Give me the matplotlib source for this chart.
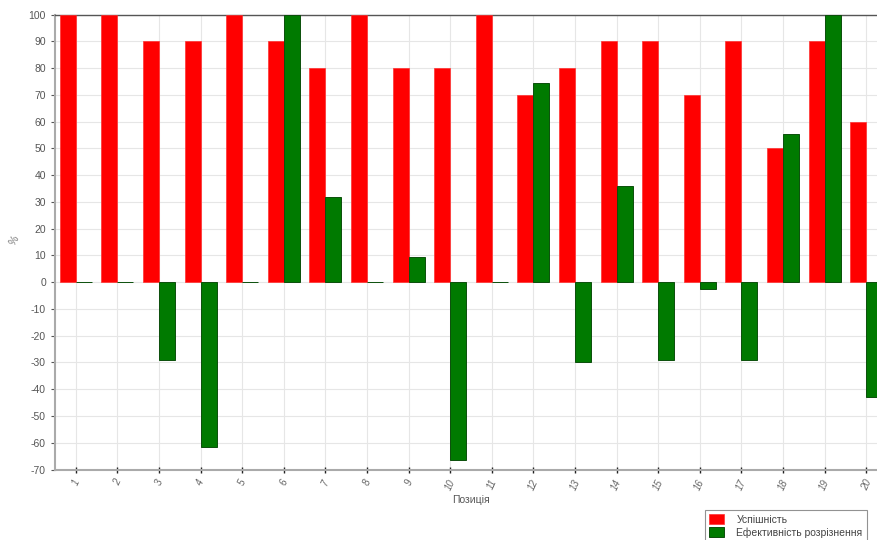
import matplotlib
matplotlib.use("Agg")
import matplotlib.pyplot as plt
import numpy as np

positions = [str(i) for i in range(1, 21)]
uspishnist = [100, 100, 90, 90, 100, 90, 80, 100, 80, 80, 100, 70, 80, 90, 90, 70, 90, 50, 90, 60]
efektyvnist = [0, 0, -29, -61.5, 0, 100, 32, 0, 9.5, -66.5, 0, 74.5, -30, 36, -29, -2.5, -29, 55.5, 100, -43]
series_names = ["Успішність", "Ефективність розрізнення"]
yticks = list(range(-70, 101, 10))

plt.rcParams['font.family'] = ['Liberation Sans', 'DejaVu Sans']
plt.rcParams['axes.unicode_minus'] = False
fig = plt.figure(figsize=(8.78, 5.40), dpi=100)
ax = fig.add_axes([55/878, 1-469.5/540, (887-55)/878, (469.5-14.7)/540])

x = np.arange(1, len(positions) + 1)
w = 0.385
b1 = ax.bar(x - w/2, uspishnist, w, color='#ff0000', edgecolor='#ff3030', linewidth=0.5,
            label=series_names[0], zorder=3)
b2 = ax.bar(x + w/2, efektyvnist, w, color='#007a00', edgecolor='#0b4f0b', linewidth=0.7,
            label=series_names[1], zorder=3)

ax.set_xlim(0.5, 20.5)
ax.set_ylim(-70, 100)
ax.set_yticks(yticks)
ax.set_xticks(x)
ax.set_xticklabels(positions, rotation=65, ha='center', va='top', fontsize=7, color='#666666',
                   style='italic')
ax.tick_params(axis='x', direction='inout', length=4, width=1, color='#222222', pad=4)
ax.tick_params(axis='y', direction='out', length=3, width=0.8, color='#555555',
               labelsize=7.5, labelcolor='#555555')
ax.grid(True, color='#e6e6e6', linewidth=0.8, zorder=0)
ax.set_axisbelow(True)
for s in ['left', 'bottom']:
    ax.spines[s].set_color('#aaaaaa')
    ax.spines[s].set_linewidth(1.5)
ax.spines['top'].set_color('#555555')
ax.spines['top'].set_linewidth(1.0)
ax.spines['right'].set_visible(False)

ax.set_xlabel("Позиція", fontsize=7.5, color='#555555', labelpad=2)
fig.text(14/878, 1-240/540, "%", rotation=60, fontsize=7.5, color='#777777',
         ha='center', va='center')

leg = fig.legend(handles=[b1, b2], labels=series_names, loc='upper left',
                 bbox_to_anchor=(700/878, 1-505/540), frameon=True,
                 prop={'family': 'Liberation Sans', 'size': 7.5},
                 fancybox=False, edgecolor='#777777', handlelength=1.4, handleheight=1.1,
                 borderpad=0.4, labelspacing=0.2, handletextpad=1.2)
for t in leg.get_texts():
    t.set_color('#444444')
leg.get_frame().set_linewidth(0.8)

fig.savefig("out.png", dpi=100)
